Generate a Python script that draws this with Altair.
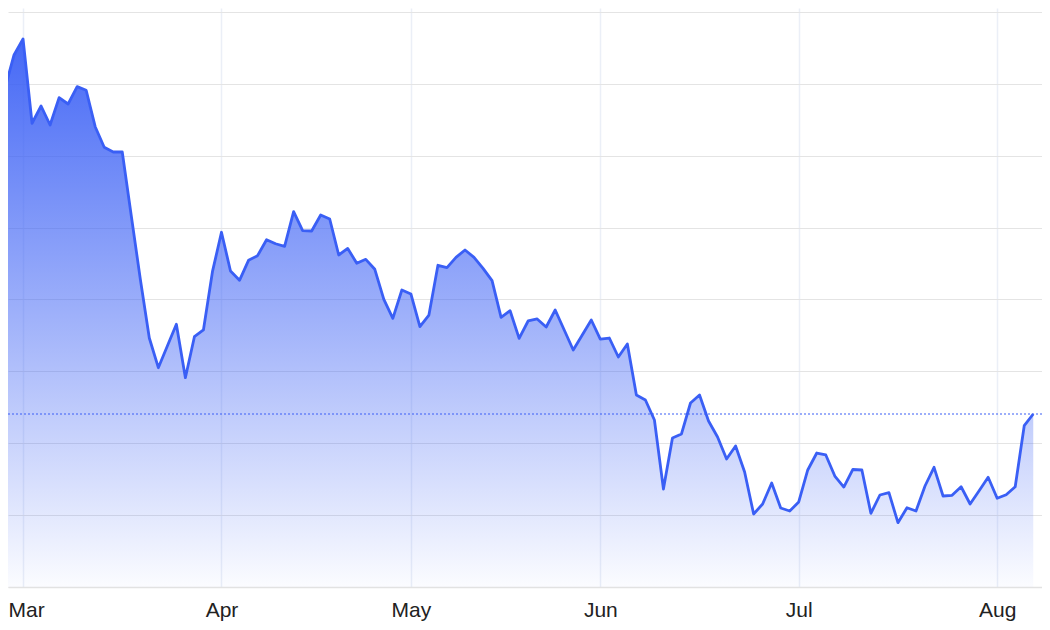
import altair as alt
import pandas as pd

# trading-day index (one point per trading day; index -1 is just off the left edge)
day_index = list(range(-1, 115))
price = [
    68.52, 69.39, 74.02, 76.24, 64.52, 66.92, 64.28, 68.08, 67.20, 69.61,
    69.11, 64.04, 61.18, 60.52, 60.52, 51.66, 42.85, 34.64, 30.51, 33.53,
    36.55, 29.12, 34.82, 35.76, 43.87, 49.35, 43.97, 42.67, 45.45, 46.10,
    48.32, 47.76, 47.40, 52.22, 49.57, 49.53, 51.76, 51.20, 46.19, 47.10,
    45.04, 45.59, 44.20, 40.03, 37.38, 41.32, 40.77, 36.22, 37.84, 44.76,
    44.43, 45.87, 46.89, 45.87, 44.34, 42.62, 37.52, 38.44, 34.60, 37.01,
    37.29, 36.17, 38.54, 35.76, 32.97, 35.06, 37.15, 34.50, 34.64, 32.00,
    33.81, 26.71, 26.02, 23.23, 13.63, 20.73, 21.29, 25.60, 26.71, 23.10,
    20.87, 17.81, 19.62, 16.00, 10.16, 11.55, 14.47, 10.99, 10.57, 11.83,
    16.28, 18.64, 18.37, 15.44, 13.91, 16.35, 16.28, 10.25, 12.80, 13.12,
    8.95, 11.03, 10.57, 14.05, 16.65, 12.66, 12.76, 13.95, 11.55, 13.40,
    15.26, 12.34, 12.84, 13.95, 22.44, 24.07,
]

# first trading day of each month (index) and its label
month_ticks = [2, 24, 45, 66, 88, 110]
month_names = ["Mar", "Apr", "May", "Jun", "Jul", "Aug"]

y_grid = [0, 10, 20, 30, 40, 50, 60, 70, 80]

df = pd.DataFrame({"i": day_index, "price": price})
last_df = pd.DataFrame({"price": [price[-1]]})

label_expr = " : ".join(
    f"datum.value == {t} ? '{n}'" for t, n in zip(month_ticks, month_names)
) + " : ''"

x_enc = alt.X(
    "i:Q",
    scale=alt.Scale(domain=[0.333, 114.97], nice=False, zero=False),
    axis=alt.Axis(
        values=month_ticks,
        labelExpr=label_expr,
        grid=True,
        gridColor="#ebeff7",
        gridWidth=1.5,
        ticks=False,
        tickSize=0,
        domain=True,
        domainColor="#e2e2e2",
        domainWidth=1.5,
        labelFont="Liberation Sans",
        labelFontSize=21,
        labelColor="#222222",
        labelPadding=29.7,
        labelBaseline="alphabetic",
        labelAlign="center",
        labelOffset=alt.ExprRef(expr=f"datum.value == {month_ticks[0]} ? 3 : 0"),
        title=None,
    ),
)

y_scale = alt.Scale(domain=[0, 80.556], nice=False, zero=True)
y_enc = alt.Y(
    "price:Q",
    scale=y_scale,
    axis=alt.Axis(
        values=y_grid,
        grid=True,
        gridColor="#e4e4e4",
        gridWidth=1,
        labels=False,
        ticks=False,
        domain=False,
        title=None,
    ),
)

gradient = alt.Gradient(
    gradient="linear",
    stops=[
        alt.GradientStop(color="rgba(59,96,245,0.95)", offset=0),
        alt.GradientStop(color="rgba(59,96,245,0.45)", offset=0.55),
        alt.GradientStop(color="rgba(59,96,245,0.02)", offset=1),
    ],
    x1=1, x2=1, y1=0, y2=1,
)

area = alt.Chart(df).mark_area(clip=True, color=gradient, interpolate="linear").encode(
    x=x_enc, y=y_enc
)
line = alt.Chart(df).mark_line(
    clip=True, color="#3a5ff5", strokeWidth=2.8, strokeJoin="round"
).encode(x=x_enc, y=alt.Y("price:Q", scale=y_scale))

rule = alt.Chart(last_df).mark_rule(
    color="#3a5ff5", strokeWidth=1.2, strokeDash=[2, 2]
).encode(y=alt.Y("price:Q", scale=y_scale))

chart = (
    alt.layer(area, line, rule)
    .properties(
        width=1034,
        height=579,
        padding={"left": 0, "top": 0, "right": 0, "bottom": 34},
        autosize=alt.AutoSizeParams(type="none"),
    )
    .configure_view(stroke=None)
)

chart.save("out.html", embed_options={"renderer": "svg", "actions": False})
